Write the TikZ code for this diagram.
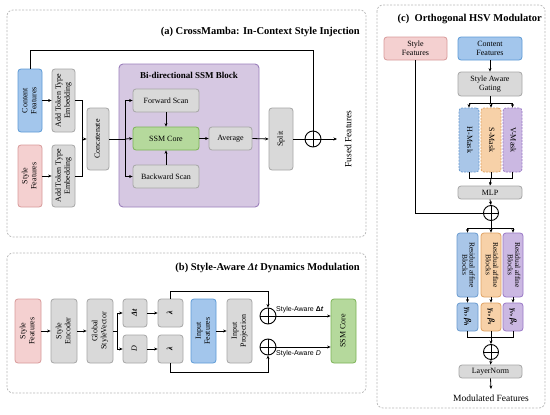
\documentclass[tikz,border=0pt]{standalone}
\usepackage{fontspec}
\setmainfont{Liberation Serif}
\newfontfamily\sansf{Liberation Sans}
\usetikzlibrary{arrows.meta}
\definecolor{gfill}{HTML}{D9D9D9}\definecolor{gline}{HTML}{A6A6A6}
\definecolor{rfill}{HTML}{F4D0D0}\definecolor{rline}{HTML}{D89A9A}
\definecolor{bfill}{HTML}{A3C6EC}\definecolor{bline}{HTML}{5E9BD6}
\definecolor{grfill}{HTML}{B5D99C}\definecolor{grline}{HTML}{7CB356}
\definecolor{pbfill}{HTML}{D6C8E2}\definecolor{pbline}{HTML}{9B7FBB}
\definecolor{ofill}{HTML}{F7D1A8}\definecolor{oline}{HTML}{E0A262}
\definecolor{pfill}{HTML}{CBB8E2}\definecolor{pline}{HTML}{9A79C6}
\definecolor{mbfill}{HTML}{A9C6E8}\definecolor{mbline}{HTML}{6A9BD0}
\definecolor{panelc}{HTML}{B8B8B8}
\tikzset{
 base/.style={draw, rounded corners=3pt, line width=0.8pt, inner sep=1pt, font=\fontsize{8}{9}\selectfont, align=center},
 gbox/.style={base, fill=gfill, draw=gline},
 rbox/.style={base, fill=rfill, draw=rline},
 bbox/.style={base, fill=bfill, draw=bline},
 grbox/.style={base, fill=grfill, draw=grline},
 obox/.style={base, fill=ofill, draw=oline},
 pbox/.style={base, fill=pfill, draw=pline},
 mbbox/.style={base, fill=mbfill, draw=mbline},
 small/.style={font=\fontsize{7.5}{8}\selectfont, inner sep=0pt},
 dsh/.style={dash pattern=on 2pt off 1.2pt},
 arr/.style={-{Stealth[length=3.5pt,width=3pt]}, line width=0.8pt},
 lnk/.style={line width=0.8pt},
 panel/.style={draw=panelc, fill=white, dash pattern=on 2pt off 1.5pt, rounded corners=6pt, line width=0.7pt},
 opl/.style={circle, draw, line width=0.9pt, minimum size=16pt, inner sep=0pt,
   path picture={\draw[line width=0.9pt] (path picture bounding box.north) -- (path picture bounding box.south)
     (path picture bounding box.west) -- (path picture bounding box.east);}},
 ttl/.style={font=\bfseries\fontsize{10.5}{12}\selectfont, anchor=east, inner sep=0pt},
 lbl/.style={font=\sansf\fontsize{7}{8}\selectfont, inner sep=1pt}
}
\newcommand\mkbox[7]{\node[#6, minimum width={(#4)-(#2)}, minimum height={(#5)-(#3)}] (#1) at ({(#2+#4)/2},{(#3+#5)/2}) {#7};}
\newcommand\rtu[1]{\rotatebox{90}{\begin{tabular}{@{}c@{}}#1\end{tabular}}}
\newcommand\rtd[1]{\rotatebox{-90}{\begin{tabular}{@{}c@{}}#1\end{tabular}}}
\newcommand\rtdt[1]{\rotatebox{-90}{\renewcommand\arraystretch{0.85}\begin{tabular}{@{}c@{}}#1\end{tabular}}}
\begin{document}
\begin{tikzpicture}[x=1pt,y=-1pt]
\useasboundingbox (0,0) rectangle (550,415);
% panels
\draw[panel] (7,10) rectangle (366,237);
\draw[panel] (7,253) rectangle (366,393);
\draw[panel] (377,5) rectangle (545,408);
% ---------- (a)
\node[ttl] (ta) at (360,32) {(a) CrossMamba: In-Context Style Injection};
\draw[pbline, fill=pbfill, line width=0.9pt, rounded corners=4pt] (119,64) rectangle (259,207);
\node[font=\bfseries\fontsize{9}{10}\selectfont] (tblk) at (189,75) {Bi-directional SSM Block};
\mkbox{cf}{18}{69}{42}{132}{bbox}{\rtu{Content\\Features}}
\mkbox{sf}{18}{145}{42}{207}{rbox}{\rtu{Style\\Features}}
\mkbox{adt}{52}{69}{75}{132}{gbox}{\rtu{Add Token Type\\Embedding}}
\mkbox{adb}{52}{145}{75}{207}{gbox}{\rtu{Add Token Type\\Embedding}}
\mkbox{cc}{87}{108}{109}{170}{gbox}{\rtu{Concatenate}}
\mkbox{fs}{133}{89}{199}{112}{gbox}{Forward Scan}
\mkbox{core}{133}{127}{199}{150}{grbox}{SSM Core}
\mkbox{bs}{133}{165}{199}{188}{gbox}{Backward Scan}
\mkbox{avg}{209}{127}{252}{150}{gbox}{Average}
\mkbox{spl}{269}{108}{293}{170}{gbox}{\rtu{Split}}
\node[opl] (opa) at (313,139) {};
\node[font=\fontsize{9.5}{11}\selectfont] (fused) at (348,139) {\rotatebox{90}{Fused Features}};
\coordinate (topy) at (0,50);
\coordinate (jn) at (82,139);
\coordinate (br) at (125,139);
\coordinate (fend) at (337,139);
\draw[lnk] (cf.north) -- (cf.north |- topy) -| (opa.north);
\draw[arr] (cf.east) -- (adt.west);
\draw[arr] (sf.east) -- (sf.east -| adb.west);
\draw[lnk] (adt.east) -| (jn);
\draw[lnk] (adb.east) -| (jn);
\draw[arr] (jn) -- (cc.west);
\draw[lnk] (cc.east) -- (br);
\draw[arr] (br) |- (fs.west);
\draw[arr] (br) -- (core.west);
\draw[arr] (br) |- (bs.west);
\draw[arr] (fs.south) -- (core.north);
\draw[arr] (bs.north) -- (core.south);
\draw[arr] (core.east) -- (avg.west);
\draw[arr] (avg.east) -- (spl.west);
\draw[lnk] (spl.east) -- (opa.west);
\draw[arr] (opa.east) -- (fend);
% ---------- (b)
\node[ttl] (tb) at (360,268) {(b) Style-Aware \textit{Δt} Dynamics Modulation};
\mkbox{sf2}{15}{299}{41}{363}{rbox}{\rtu{Style\\Features}}
\mkbox{enc}{51}{299}{77}{363}{gbox}{\rtu{Style\\Encoder}}
\mkbox{gv}{87}{299}{113}{363}{gbox}{\rtu{Global\\StyleVector}}
\mkbox{dt}{123}{299}{147}{327}{gbox}{\rtu{\textbf{\textit{Δt}}}}
\mkbox{dd}{123}{335}{147}{363}{gbox}{\rtu{\textit{D}}}
\mkbox{la}{158}{299}{183}{327}{gbox}{\rtu{\textbf{\textit{λ}}}}
\mkbox{lb}{158}{335}{183}{363}{gbox}{\rtu{\textbf{\textit{λ}}}}
\mkbox{inf}{191}{299}{216}{363}{bbox}{\rtu{Input\\Features}}
\mkbox{ip}{227}{299}{252}{363}{gbox}{\rtu{Input\\Projection}}
\mkbox{ssm2}{331}{299}{356}{363}{grbox}{\rtu{SSM Core}}
\node[opl] (op1) at (268,316) {};
\node[opl] (op2) at (268,347) {};
\coordinate (br2) at (117,331);
\coordinate (ty) at (0,291);
\coordinate (by) at (0,372);
\draw[arr] (sf2.east) -- (enc.west);
\draw[arr] (enc.east) -- (gv.west);
\draw[lnk] (gv.east) -- (br2);
\draw[arr] (br2) |- (dt.west);
\draw[arr] (br2) |- (dd.west);
\draw[arr] (dt.east) -- (la.west);
\draw[arr] (dd.east) -- (lb.west);
\draw[arr] (inf.east) -- (ip.west);
\draw[arr] (la.north) -- (la.north |- ty) -| (op1.north);
\draw[arr] (lb.south) -- (lb.south |- by) -| (op2.south);
\draw[arr] (op1.east) -- (op1.east -| ssm2.west);
\draw[arr] (op2.east) -- (op2.east -| ssm2.west);
\node[lbl, anchor=south west] (l1) at (275,314) {Style-Aware \textbf{Δ\textit{t}}};
\node[lbl, anchor=north west] (l2) at (275,349) {Style-Aware \textit{D}};
% ---------- (c)
\node[ttl] (tc) at (542,19) {(c)\ \ Orthogonal HSV Modulator};
\mkbox{sf3}{384}{37}{447}{60}{rbox}{Style\\Features}
\mkbox{cf3}{458}{37}{522}{60}{bbox}{Content\\Features}
\mkbox{gate}{458}{72}{522}{96}{gbox}{Style Aware\\Gating}
\mkbox{hm}{459}{108}{479}{172}{mbbox,dsh}{\rtd{H-Mask}}
\mkbox{sm}{481}{108}{501}{172}{obox,dsh}{\rtd{S-Mask}}
\mkbox{vm}{503}{108}{522}{172}{pbox,dsh}{\rtd{V-Mask}}
\mkbox{mlp}{458}{186}{522}{199}{gbox}{MLP}
\node[opl, minimum size=15pt] (op3) at (491,213) {};
\mkbox{rh}{457}{233}{478}{297}{mbbox,small}{\rtdt{Residual affine\\Blocks}}
\mkbox{rs}{481}{233}{501}{297}{obox,small}{\rtdt{Residual affine\\Blocks}}
\mkbox{rv}{503}{233}{523}{297}{pbox,small}{\rtdt{Residual affine\\Blocks}}
\mkbox{gh}{457}{303}{478}{331}{mbbox}{\rtd{\textbf{\textit{γ\textsubscript{h}}, \textit{β\textsubscript{h}}}}}
\mkbox{gs}{481}{303}{501}{331}{obox}{\rtd{\textbf{\textit{γ\textsubscript{s}}, \textit{β\textsubscript{s}}}}}
\mkbox{gvv}{503}{303}{523}{331}{pbox}{\rtd{\textbf{\textit{γ\textsubscript{v}}, \textit{β\textsubscript{v}}}}}
\node[opl, minimum size=15pt] (op4) at (491,352) {};
\mkbox{lnm}{459}{365}{522}{378}{gbox}{LayerNorm}
\coordinate (mend) at (491,389);
\node[font=\fontsize{9.5}{11}\selectfont, anchor=north] (mod) at (491,391) {Modulated Features};
\coordinate (y1) at (0,103);
\coordinate (y2) at (0,178);
\coordinate (y3) at (0,228);
\coordinate (y4) at (0,337);
\draw[lnk] (sf3.south) |- (op3.west);
\draw[arr] (cf3.south) -- (gate.north);
\draw[lnk] (gate.south) -- (gate.south |- y1);
\draw[lnk] (hm.north |- y1) -- (vm.north |- y1);
\draw[arr] (hm.north |- y1) -- (hm.north);
\draw[arr] (sm.north |- y1) -- (sm.north);
\draw[arr] (vm.north |- y1) -- (vm.north);
\draw[lnk] (hm.south) -- (hm.south |- y2) -- (vm.south |- y2) -- (vm.south);
\draw[lnk] (sm.south) -- (sm.south |- y2);
\draw[arr] (sm.south |- y2) -- (mlp.north);
\draw[arr] (mlp.south) -- (op3.north);
\draw[lnk] (op3.south) -- (op3.south |- y3);
\draw[lnk] (rh.north |- y3) -- (rv.north |- y3);
\draw[arr] (rh.north |- y3) -- (rh.north);
\draw[arr] (rs.north |- y3) -- (rs.north);
\draw[arr] (rv.north |- y3) -- (rv.north);
\draw[arr] (rh.south) -- (gh.north);
\draw[arr] (rs.south) -- (gs.north);
\draw[arr] (rv.south) -- (gvv.north);
\draw[lnk] (gh.south) -- (gh.south |- y4) -- (gvv.south |- y4) -- (gvv.south);
\draw[lnk] (gs.south) -- (gs.south |- y4);
\draw[arr] (gs.south |- y4) -- (op4.north);
\draw[arr] (op4.south) -- (lnm.north);
\draw[arr] (lnm.south) -- (mend);
\end{tikzpicture}
\end{document}
